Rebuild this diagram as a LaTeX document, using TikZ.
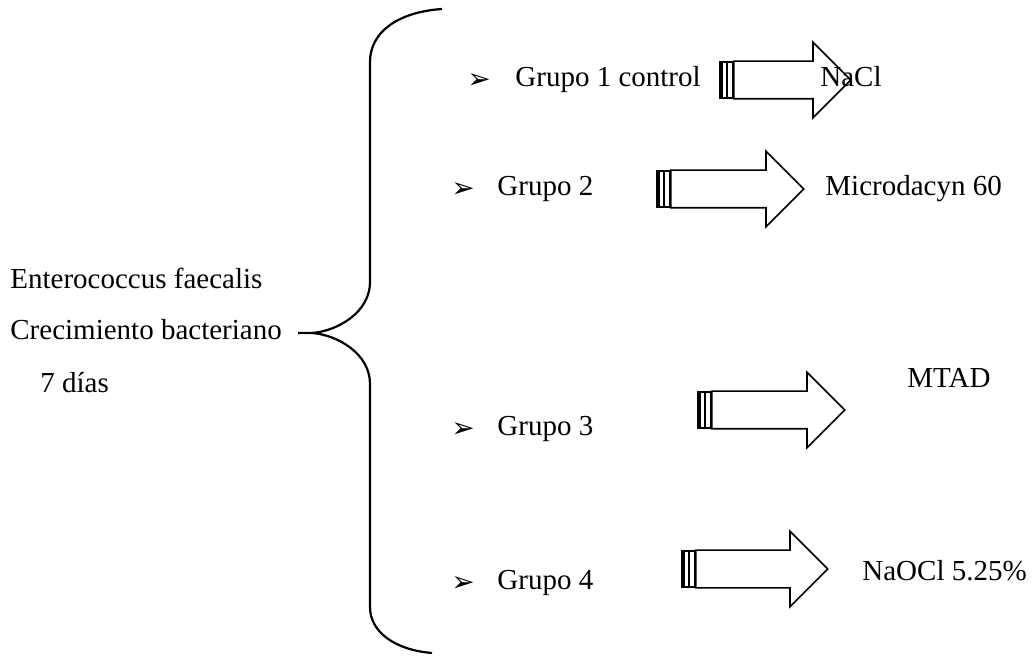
\documentclass[tikz,border=0pt]{standalone}
\usepackage{fontspec}
\setmainfont{Liberation Serif}
\newfontfamily\dingfont{DejaVu Sans}
\usetikzlibrary{shapes.arrows}

\begin{document}
\begin{tikzpicture}[x=0.5pt,y=-0.5pt,
  txt/.style={anchor=base west,inner sep=0pt,font=\fontsize{14.5}{17}\selectfont},
  bul/.style={anchor=base west,inner sep=0pt,font=\dingfont\fontsize{14}{14}\selectfont},
  fat/.style={single arrow,draw,line width=0.8pt,anchor=tail,inner xsep=0pt,inner ysep=9pt,
    single arrow head extend=9.5pt,single arrow tip angle=90,single arrow head indent=0pt},
  stripe/.style={line width=0.6pt},
  brace/.style={line width=1.1pt}]
\useasboundingbox (0,0) rectangle (1032,656);

% left side
\node[txt] (E1) at (10,289) {Enterococcus faecalis};
\node[txt] (E2) at (10,340) {Crecimiento bacteriano};
\node[txt] (E3) at (40,393) {7 días};

% brace
\coordinate (btop) at (442,9);
\coordinate (bjoin) at (312,333);
\coordinate (btip) at (298,333);
\coordinate (bbot) at (432,653);
\draw[brace] (btop) .. controls (398,12) and (370,32) .. (370,62) -- (370,282)
  .. controls (370,312) and (338,331) .. (bjoin) -- (btip);
\draw[brace] (bjoin) .. controls (338,335) and (370,354) .. (370,384) -- (370,607)
  .. controls (370,632) and (395,650) .. (bbot);

% groups
\node[bul] (b1) at (467,89) {➢};
\node[txt] (G1) at (515,87) {Grupo 1 control};
\node[bul] (b2) at (451,198) {➢};
\node[txt] (G2) at (497,196) {Grupo 2};
\node[bul] (b3) at (451,438) {➢};
\node[txt] (G3) at (497,436) {Grupo 3};
\node[bul] (b4) at (451,591) {➢};
\node[txt] (G4) at (497,589) {Grupo 4};

% arrows
\node[fat,minimum height=58.5pt] (a1) at (733,80) {};
\node[fat,minimum height=66.5pt] (a2) at (670,189) {};
\node[fat,minimum height=66.5pt] (a3) at (711,410) {};
\node[fat,minimum height=66pt] (a4) at (695,569) {};
\foreach \a in {a1,a2,a3,a4}{
  \draw[stripe] ([xshift=-6.5pt,yshift=9pt]\a.tail) rectangle ([yshift=-9pt]\a.tail);
  \draw[stripe] ([xshift=-5.5pt,yshift=9pt]\a.tail) -- ([xshift=-5.5pt,yshift=-9pt]\a.tail);
  \draw[stripe] ([xshift=-3pt,yshift=9pt]\a.tail) -- ([xshift=-3pt,yshift=-9pt]\a.tail);
}

% results
\node[txt] (R1) at (820,87) {NaCl};
\node[txt] (R2) at (825,196) {Microdacyn 60};
\node[txt] (R3) at (907,388) {MTAD};
\node[txt] (R4) at (862,581) {NaOCl 5.25\%};
\end{tikzpicture}
\end{document}
